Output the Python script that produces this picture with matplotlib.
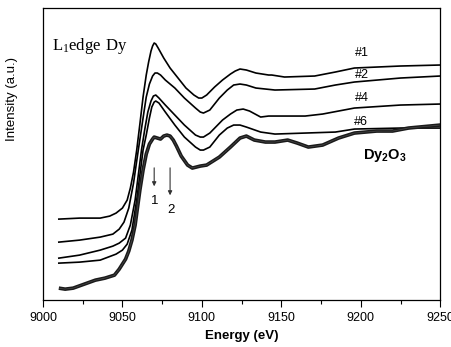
import matplotlib
matplotlib.use('Agg')
import matplotlib.pyplot as plt

plt.rcParams['font.family'] = 'Liberation Sans'
plt.rcParams['mathtext.fontset'] = 'custom'
plt.rcParams['mathtext.rm'] = 'Liberation Serif'
plt.rcParams['mathtext.bf'] = 'Liberation Sans:bold'

# spectra (energy in eV, intensity in arbitrary units, curves offset)
e1 = [9010, 9023, 9036, 9042, 9046, 9050, 9053, 9055, 9057, 9059, 9061, 9063, 9065, 9066.5, 9068,
      9069, 9070, 9071, 9072.5, 9076, 9080, 9085, 9090, 9095, 9098, 9100, 9103, 9108, 9113, 9118,
      9121, 9124, 9128, 9134, 9142, 9144, 9152, 9171, 9184, 9196, 9225, 9250]
i1 = [81, 82, 82, 84, 87, 92, 100, 112, 128, 150, 176, 203, 225, 238, 249,
      254, 257, 256, 252, 242, 232, 222, 212, 205, 202, 202, 205, 213, 220, 226,
      229, 231, 230, 227, 225, 225, 223, 224, 228, 232, 234, 235]

e2 = [9010, 9023, 9036, 9044, 9048, 9051, 9054, 9057, 9060, 9063, 9065, 9067, 9069, 9070.5, 9072,
      9074, 9077, 9083, 9089, 9096, 9099, 9101, 9105, 9111, 9116, 9120, 9124, 9128, 9134, 9146,
      9171, 9184, 9196, 9225, 9250]
i2 = [58, 60, 63, 66, 71, 78, 92, 117, 150, 182, 203, 216, 224, 227, 227,
      225, 220, 212, 202, 192, 188, 187, 190, 202, 210, 215, 216, 215, 212, 210,
      211, 215, 218, 222, 224]

e4 = [9010, 9023, 9036, 9044, 9048, 9052, 9055, 9058, 9060, 9062, 9064, 9066, 9068, 9069.5, 9071,
      9073, 9077, 9083, 9089, 9096, 9099, 9101, 9105, 9113, 9118, 9122, 9126, 9130, 9137, 9142,
      9165, 9176, 9196, 9225, 9250]
i4 = [42, 45, 50, 54, 57, 62, 75, 100, 125, 150, 170, 188, 199, 204, 205,
      202, 195, 185, 175, 165, 163, 163, 167, 180, 186, 190, 191, 189, 183, 184,
      184, 186, 192, 195, 196]

e6 = [9010, 9023, 9036, 9046, 9050, 9053, 9056, 9059, 9061, 9063, 9065, 9067, 9068.5, 9070, 9071,
      9073, 9077, 9083, 9089, 9096, 9099, 9101, 9105, 9111, 9116, 9120, 9124, 9128, 9137, 9146,
      9165, 9184, 9196, 9225, 9250]
i6 = [37, 38, 40, 46, 50, 56, 70, 100, 125, 150, 165, 182, 193, 198, 199,
      197, 188, 175, 163, 153, 150, 150, 153, 165, 172, 175, 175, 173, 168, 166,
      167, 168, 171, 172, 172]

e_ox = [9010, 9014, 9019, 9026, 9033, 9039, 9045, 9048, 9050, 9052, 9054, 9056, 9058, 9061, 9063,
        9065, 9067, 9069, 9070, 9072, 9074, 9076, 9078, 9080, 9082, 9084, 9087, 9091, 9094, 9099,
        9103, 9108, 9111, 9118, 9124, 9128, 9133, 9140, 9146, 9154, 9160, 9167, 9176, 9186, 9196,
        9210, 9220, 9230, 9250]
i_ox = [12, 11, 12, 16, 20, 22, 25, 31, 36, 41, 49, 60, 75, 110, 130,
        146, 156, 161, 163, 162, 161, 164, 165, 164, 160, 154, 144, 135, 132, 134,
        135, 140, 143, 153, 162, 164, 160, 158, 158, 160, 157, 153, 155, 162, 167,
        169, 169, 172, 175]

sample_labels = ['#1', '#2', '#4', '#6']
label_pos = [(9201, 247), (9201, 225), (9201, 202), (9200, 178)]
arrow_x = [9070, 9080]
arrow_tip = [111, 102]
arrow_text = ['1', '2']

fig = plt.figure(figsize=(4.52, 3.47), dpi=100)
ax = fig.add_axes([0.095, 0.135, 0.879, 0.842])

for e, i in [(e1, i1), (e2, i2), (e4, i4), (e6, i6)]:
    ax.plot(e, i, color='black', lw=1.2)

ax.plot(e_ox, i_ox, color='#1a1a1a', lw=2.6, solid_capstyle='butt')
ax.plot(e_ox, i_ox, color='#bbbbbb', lw=0.5, dashes=(0.4, 1.0))

for lab, (x, y) in zip(sample_labels, label_pos):
    ax.text(x, y, lab, fontsize=9, ha='center', va='center')

ax.text(9215, 145, r'$\mathbf{Dy}_\mathbf{2}\mathbf{O}_\mathbf{3}$', fontsize=10.5, ha='center', va='center')
ax.text(9006, 254, r'$\mathrm{L_1edge\ Dy}$', fontsize=12, ha='left', va='center')

for x, tip, t in zip(arrow_x, arrow_tip, arrow_text):
    ax.annotate('', xy=(x, tip), xytext=(x, 135),
                arrowprops=dict(arrowstyle='-|>', color='#333333', lw=0.8, mutation_scale=6))
    ax.text(x + 0.5, tip - 12, t, fontsize=9.5, ha='center', va='center')

ax.set_xlim(9000, 9250)
ax.set_ylim(0, 292)
ax.set_xticks([9000, 9050, 9100, 9150, 9200, 9250])
ax.set_xticks([9025, 9075, 9125, 9175, 9225], minor=True)
ax.tick_params(axis='x', which='major', direction='out', length=5, width=0.8, labelsize=9)
ax.tick_params(axis='x', which='minor', direction='out', length=3, width=0.8)
ax.set_yticks([])
for s in ax.spines.values():
    s.set_linewidth(0.9)

ax.set_xlabel('Energy (eV)', fontsize=9.5, fontweight='bold', labelpad=4)
ax.set_ylabel('Intensity (a.u.)', fontsize=9.5)
ax.yaxis.set_label_coords(-0.062, 0.69)

fig.savefig('out.png', dpi=100)
